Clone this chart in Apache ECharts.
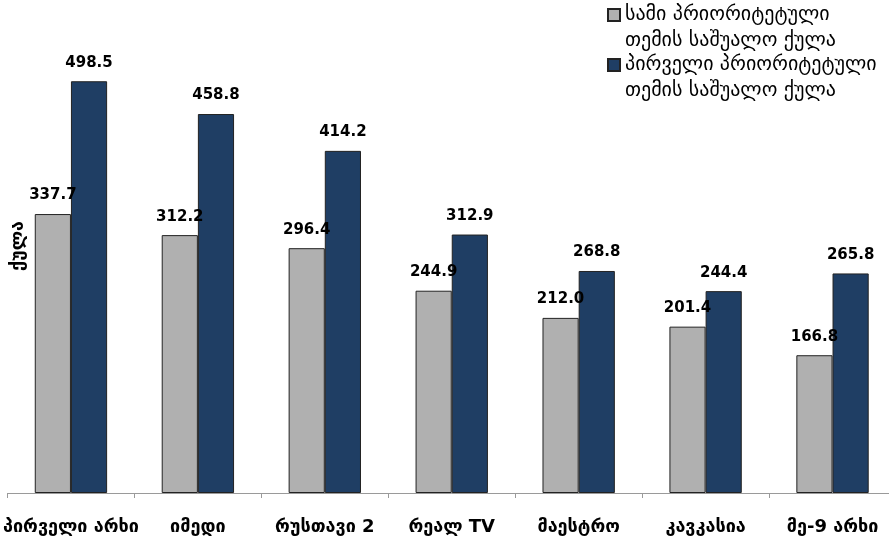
<!DOCTYPE html>
<html>
<head>
<meta charset="utf-8">
<script src="https://cdn.jsdelivr.net/npm/echarts@6/dist/echarts.min.js"></script>
<style>
html,body{margin:0;padding:0;background:#fff;overflow:hidden;width:889px;height:542px;}
#chart{width:896px;height:542px;}
</style>
</head>
<body>
<div id="chart"></div>
<script>
const categories = ['პირველი არხი', 'იმედი', 'რუსთავი 2', 'რეალ TV', 'მაესტრო', 'კავკასია', 'მე-9 არხი'];
const seriesNames = ['სამი პრიორიტეტული\nთემის საშუალო ქულა', 'პირველი პრიორიტეტული\nთემის საშუალო ქულა'];
const threeTopicsAvg = [337.7, 312.2, 296.4, 244.9, 212.0, 201.4, 166.8];
const firstTopicAvg = [498.5, 458.8, 414.2, 312.9, 268.8, 244.4, 265.8];
const yAxisName = 'ქულა';

const chart = echarts.init(document.getElementById('chart'), null, {renderer: 'canvas'});
const labelStyle = {
  show: true,
  position: 'top',
  distance: 11,
  color: '#000',
  fontFamily: 'DejaVu Sans',
  fontWeight: 'bold',
  fontSize: 15,
  formatter: p => p.value.toFixed(1)
};
chart.setOption({
  animation: false,
  backgroundColor: '#fff',
  grid: {left: 7, top: 80, right: 0, bottom: 49, containLabel: false},
  legend: {
    orient: 'vertical',
    left: 607,
    top: -24,
    padding: 0,
    itemGap: -28,
    itemWidth: 12,
    itemHeight: 12,
    icon: 'rect',
    formatter: name => '\n' + name,
    textStyle: {
      fontFamily: 'DejaVu Sans',
      fontSize: 20,
      color: '#000',
      lineHeight: 26
    },
    data: seriesNames
  },
  xAxis: {
    type: 'category',
    data: categories,
    axisLine: {show: true, lineStyle: {color: '#9a9a9a', width: 1}},
    axisTick: {show: true, alignWithLabel: false, length: 5, lineStyle: {color: '#9a9a9a'}},
    axisLabel: {
      interval: 0,
      margin: 25,
      color: '#000',
      fontFamily: 'DejaVu Sans',
      fontWeight: 'bold',
      fontSize: 18
    }
  },
  yAxis: {
    type: 'value',
    min: 0,
    max: 500,
    show: false
  },
  graphic: [{
    type: 'text',
    x: 18,
    y: 246,
    rotation: Math.PI / 2,
    style: {
      text: yAxisName,
      fill: '#000',
      font: 'bold 18px "DejaVu Sans"',
      align: 'center',
      verticalAlign: 'middle'
    }
  }],
  series: [
    {
      name: seriesNames[0],
      type: 'bar',
      data: threeTopicsAvg,
      barGap: '0%',
      barCategoryGap: '43%',
      itemStyle: {color: '#B0B0B0', borderColor: '#222', borderWidth: 1},
      label: labelStyle
    },
    {
      name: seriesNames[1],
      type: 'bar',
      data: firstTopicAvg,
      barGap: '0%',
      barCategoryGap: '43%',
      itemStyle: {color: '#1F3E64', borderColor: '#222', borderWidth: 1},
      label: labelStyle
    }
  ]
});
</script>
</body>
</html>
